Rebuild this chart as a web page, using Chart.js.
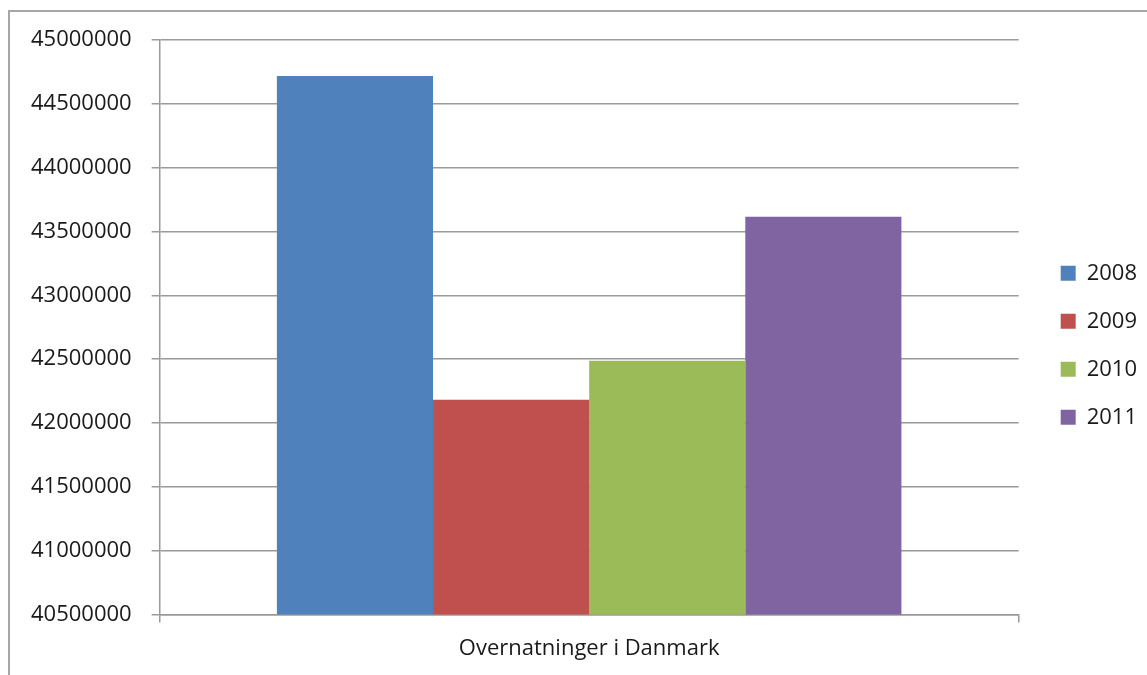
<!DOCTYPE html>
<html>
<head>
<meta charset="utf-8">
<script src="https://cdn.jsdelivr.net/npm/chart.js@4"></script>
<style>
  body { margin: 0; background: #fff; }
  #wrap { position: relative; width: 1147px; height: 675px; }
  #frame {
    position: absolute; left: 8px; top: 10px; right: 0; bottom: 0;
    border-left: 2px solid #a6a6a6; border-top: 2px solid #a6a6a6;
    pointer-events: none;
  }
</style>
</head>
<body>
<div id="wrap">
  <canvas id="chart" width="1147" height="675"></canvas>
  <div id="frame"></div>
</div>
<script>
// Data
const categories = ['Overnatninger i Danmark'];
const seriesNames = ['2008', '2009', '2010', '2011'];
const seriesValues = [44718000, 42183000, 42488000, 43615000];
const seriesColors = ['#4F81BD', '#C0504D', '#9BBB59', '#8064A2'];
const yTickValues = [40500000, 41000000, 41500000, 42000000, 42500000,
                     43000000, 43500000, 44000000, 44500000, 45000000];

const textColor = '#1a1a1a';
const lineColor = '#9a9a9a';
const font = { family: '"Open Sans", sans-serif', size: 22 };

const datasets = seriesNames.map((name, i) => ({
  label: name,
  data: [seriesValues[i]],
  backgroundColor: seriesColors[i],
  borderWidth: 0,
  categoryPercentage: 0.727,
  barPercentage: 1.0
}));

const ctx = document.getElementById('chart').getContext('2d');
const chart = new Chart(ctx, {
  type: 'bar',
  data: { labels: categories, datasets: datasets },
  options: {
    responsive: false,
    animation: false,
    layout: { padding: { left: 11, top: 40, right: 0, bottom: 0 } },
    scales: {
      x: {
        grid: { display: true, drawOnChartArea: false, drawTicks: true, tickLength: 8, color: lineColor, lineWidth: 1.5 },
        border: { display: true, color: lineColor, width: 1.5 },
        ticks: { color: textColor, font: font, padding: 13 }
      },
      y: {
        min: yTickValues[0],
        max: yTickValues[yTickValues.length - 1],
        afterBuildTicks: scale => {
          scale.ticks = yTickValues.map(v => ({ value: v }));
        },
        grid: { color: lineColor, lineWidth: 1.5, tickLength: 8 },
        border: { display: true, color: lineColor, width: 1.5 },
        ticks: {
          color: textColor,
          font: font,
          padding: 20,
          callback: value => String(value)
        }
      },
      // empty right axis, only keeps a gap between plot and legend
      yGap: {
        position: 'right',
        display: true,
        grid: { display: false },
        border: { display: false },
        ticks: { display: false },
        afterFit: scale => { scale.width = 16; }
      }
    },
    plugins: {
      legend: {
        position: 'right',
        align: 'center',
        fullSize: false,
        // empty title, just pushes the items down a bit
        title: { display: true, text: '', padding: 12, font: { size: 10 } },
        labels: {
          color: textColor,
          font: font,
          boxWidth: 15,
          boxHeight: 15,
          padding: 26
        }
      },
      tooltip: { enabled: false }
    }
  }
});
</script>
</body>
</html>
